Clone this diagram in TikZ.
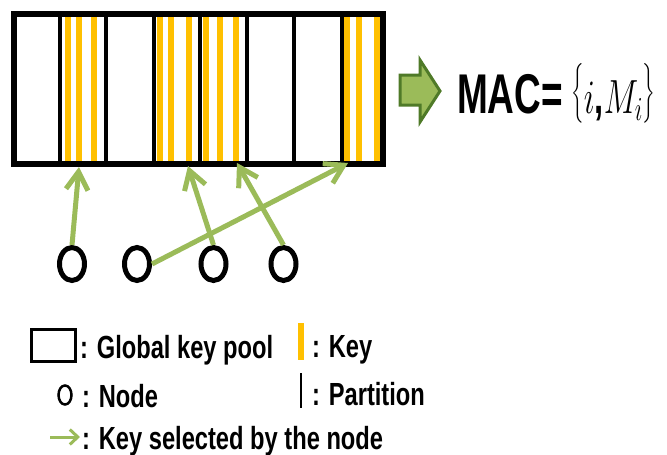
\RequirePackage{fix-cm}
\documentclass[tikz,border=0pt]{standalone}
\usepackage{amsmath}
\usepackage{fontspec}
\setmainfont{Liberation Sans}
\usepackage{graphicx}
\usetikzlibrary{arrows.meta,shapes.geometric}
\definecolor{keyyel}{HTML}{FFC000}
\definecolor{selgreen}{HTML}{9BBB59}
\definecolor{darkgreen}{HTML}{4F7A28}
\begin{document}
\begin{tikzpicture}[x=1pt,y=-1pt,
  partline/.style={line width=3.5pt},
  pool/.style={line width=6pt},
  sensor/.style={ellipse, draw, line width=5pt, minimum width=25pt, minimum height=33pt, inner sep=0pt},
  selarrow/.style={draw=selgreen, line width=5pt, -{Straight Barb[length=18pt,width=22pt]}},
  lbl/.style={anchor=base west, inner sep=0pt, font=\bfseries\fontsize{32}{38}\selectfont},
]
\useasboundingbox (0,0) rectangle (667,455);
% key stripes
\foreach \c in {67.5,79,94,159.5,171,188.5,206,220,235.5,346.5,358.5,376.5}
  \fill[keyyel] (\c-3,14) rectangle (\c+3,163);
% partitions
\foreach \p in {60,106,154,200,247,294,342}
  \draw[partline] (\p,13) -- (\p,164);
% global key pool
\draw[pool] (14,13.5) rectangle (383,163.5);
% nodes
\node[sensor] (n1) at (72,264) {};
\node[sensor] (n2) at (137,264) {};
\node[sensor] (n3) at (213.5,264) {};
\node[sensor] (n4) at (283.5,264) {};
% selected keys
\coordinate (k1) at (79,167);
\coordinate (k2) at (188,166);
\coordinate (k3) at (237,163);
\coordinate (k4) at (348,163);
\draw[selarrow] (n1.north) -- (k1);
\draw[selarrow] (n3.north) -- (k2);
\draw[selarrow] (n4.north) -- (k3);
\draw[selarrow] (n2.east) -- (k4);
% block arrow
\draw[draw=darkgreen, fill=selgreen, line width=3pt, line join=miter]
  (400,75) -- (420,75) -- (420,60) -- (440,91) -- (420,122) -- (420,105) -- (400,105) -- cycle;
\node[anchor=base west, inner sep=0pt, font=\bfseries\fontsize{56}{60}\selectfont] (mac) at (457,113) {\scalebox{0.66}[1]{MAC=}};
\node[anchor=base west, inner sep=0pt, font=\fontsize{48}{74}\selectfont] (macset) at (571,113)
  {\scalebox{0.68}[1]{$\raisebox{8pt}{$\bigl\{$}i\text{\bfseries ,}M_i\raisebox{8pt}{$\bigr\}$}$}};
% legend
\draw[line width=3pt] (31.5,329.5) rectangle (75.5,361.5);
\node[lbl] (tpool) at (80,358) {\scalebox{0.74}[1]{: Global key pool}};
\fill[keyyel] (298,323) rectangle (304,360);
\node[lbl] (tkey) at (312,357) {\scalebox{0.74}[1]{: Key}};
\node[ellipse, draw, line width=2.5pt, minimum width=13pt, minimum height=19pt, inner sep=0pt] (lnode) at (65,395) {};
\node[lbl] (tnode) at (82,407) {\scalebox{0.74}[1]{: Node}};
\draw[line width=2.5pt] (301,373) -- (301,408);
\node[lbl] (tpart) at (312,405) {\scalebox{0.74}[1]{: Partition}};
\coordinate (la) at (50,437);
\coordinate (lb) at (80,437);
\draw[selgreen, line width=3pt, -{Straight Barb[length=8pt,width=15pt]}] (la) -- (lb);
\node[lbl] (tsel) at (82,449) {\scalebox{0.74}[1]{: Key selected by the node}};
\end{tikzpicture}
\end{document}
